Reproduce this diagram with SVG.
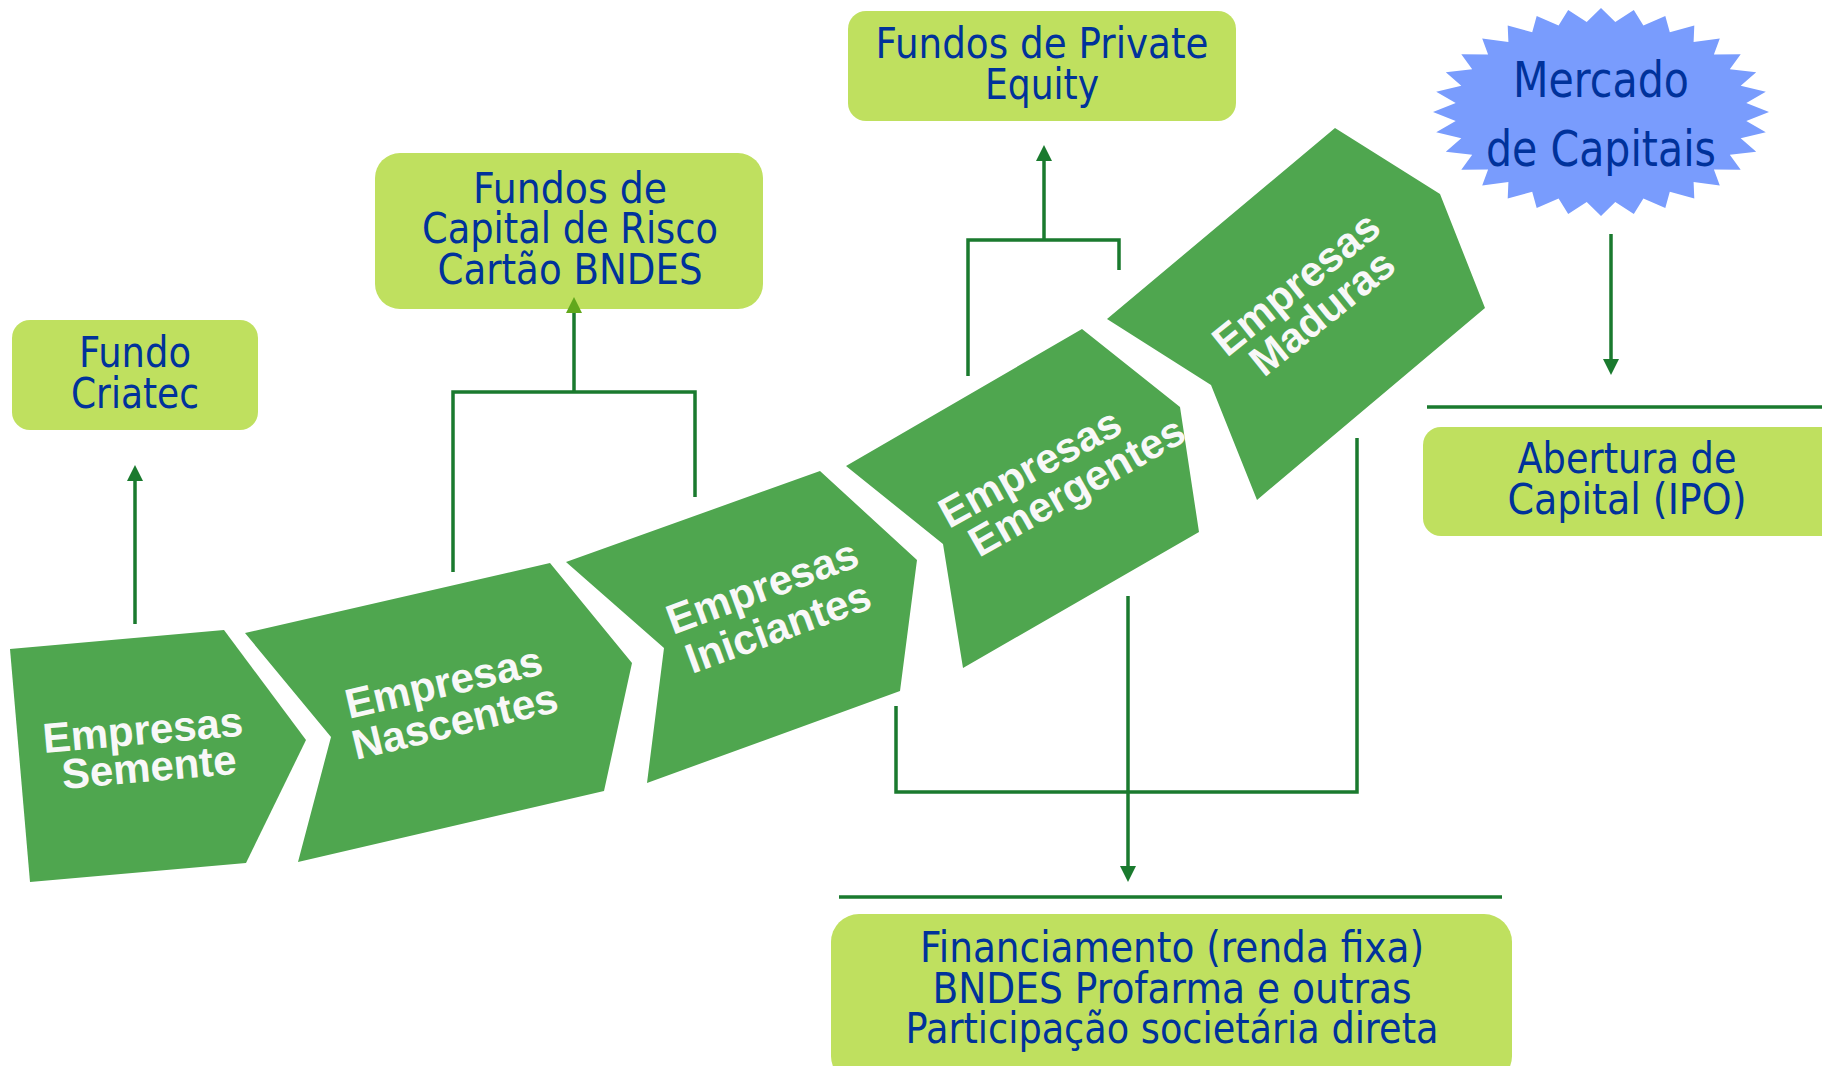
<svg xmlns="http://www.w3.org/2000/svg" width="1822" height="1066" viewBox="0 0 1822 1066">
  <style>
    .box { fill: #bfe05f; }
    .stage { fill: #4fa64f; }
    .btxt { font-family: "DejaVu Sans", sans-serif; font-size: 42px; fill: #00329b; text-anchor: middle; }
    .mtxt { font-family: "DejaVu Sans", sans-serif; font-size: 49px; fill: #00329b; text-anchor: middle; }
    .wtxt { font-family: "Liberation Sans", Arial, sans-serif; font-size: 42px; font-weight: bold; fill: #f8f8f8; }
    .conn { fill: none; stroke: #1a7a2e; stroke-width: 3.5; }
  </style>
  <defs>
    <marker id="arr" markerUnits="userSpaceOnUse" markerWidth="16" markerHeight="16" refX="12" refY="8" orient="auto">
      <path d="M0,0 L16,8 L0,16 Z" fill="#1a7a2e"/>
    </marker>
    <marker id="arrLight" markerUnits="userSpaceOnUse" markerWidth="16" markerHeight="16" refX="12" refY="8" orient="auto">
      <path d="M0,0 L16,8 L0,16 Z" fill="#62a81c"/>
    </marker>
  </defs>
  <rect width="1822" height="1066" fill="#ffffff"/>

  <g id="stage-semente">
    <polygon class="stage" points="10,649 224,630 306,740 246,863 30,882"/>
    <text class="wtxt" transform="translate(44,753) rotate(-5)">Empresas</text>
    <text class="wtxt" transform="translate(63,789) rotate(-5)">Semente</text>
  </g>
  <g id="stage-nascentes">
    <polygon class="stage" points="245,633 550,563 632,663 604,791 298,862 331,737"/>
    <text class="wtxt" transform="translate(349,719) rotate(-13)">Empresas</text>
    <text class="wtxt" transform="translate(356,760) rotate(-13.5)">Nascentes</text>
  </g>
  <g id="stage-iniciantes">
    <polygon class="stage" points="566,562 820,471 917,560 900,691 647,783 664,648"/>
    <text class="wtxt" transform="translate(673,635) rotate(-20.3)">Empresas</text>
    <text class="wtxt" transform="translate(692,674) rotate(-20.1)">Iniciantes</text>
  </g>
  <g id="stage-emergentes">
    <polygon class="stage" points="846,466 1082,329 1180,407 1199,532 963,668 943,544"/>
    <text class="wtxt" transform="translate(949,529) rotate(-29)">Empresas</text>
    <text class="wtxt" transform="translate(979,558) rotate(-29.5)">Emergentes</text>
  </g>
  <g id="stage-maduras">
    <polygon class="stage" points="1107,319 1335,128 1440,194 1485,308 1257,500 1211,385"/>
    <text class="wtxt" transform="translate(1227,358) rotate(-39)">Empresas</text>
    <text class="wtxt" transform="translate(1264,378) rotate(-39)">Maduras</text>
  </g>

  <g id="fundo-criatec">
    <rect class="box" x="12" y="320" width="246" height="110" rx="18"/>
    <text class="btxt" x="135" y="367" textLength="112" lengthAdjust="spacingAndGlyphs">Fundo</text>
    <text class="btxt" x="135" y="408" textLength="128" lengthAdjust="spacingAndGlyphs">Criatec</text>
  </g>
  <g id="fundos-capital-risco">
    <rect class="box" x="375" y="153" width="388" height="156" rx="25"/>
    <text class="btxt" x="570" y="203" textLength="194" lengthAdjust="spacingAndGlyphs">Fundos de</text>
    <text class="btxt" x="570" y="243" textLength="296" lengthAdjust="spacingAndGlyphs">Capital de Risco</text>
    <text class="btxt" x="570" y="284" textLength="265" lengthAdjust="spacingAndGlyphs">Cartão BNDES</text>
  </g>
  <g id="fundos-private-equity">
    <rect class="box" x="848" y="11" width="388" height="110" rx="18"/>
    <text class="btxt" x="1042" y="58" textLength="333" lengthAdjust="spacingAndGlyphs">Fundos de Private</text>
    <text class="btxt" x="1042" y="99" textLength="114" lengthAdjust="spacingAndGlyphs">Equity</text>
  </g>
  <g id="mercado-capitais">
    <polygon fill="#799cfd" points="1601,8 1615.3,21.9 1633.8,10 1643.4,25.4 1665.3,15.9 1669.8,32.2 1694.3,25.5 1693.6,42 1719.8,38.5 1713.9,54.6 1740.7,54.2 1729.8,69.3 1756.2,72.2 1740.7,85.7 1765.8,91.7 1746.3,103.1 1769,112 1746.3,120.9 1765.8,132.3 1740.7,138.3 1756.2,151.8 1729.8,154.7 1740.7,169.8 1713.9,169.4 1719.8,185.5 1693.6,182 1694.3,198.5 1669.8,191.8 1665.3,208.1 1643.4,198.6 1633.8,214 1615.3,202.1 1601,216 1586.7,202.1 1568.2,214 1558.6,198.6 1536.7,208.1 1532.2,191.8 1507.7,198.5 1508.4,182 1482.2,185.5 1488.1,169.4 1461.3,169.8 1472.2,154.7 1445.8,151.8 1461.3,138.3 1436.2,132.3 1455.7,120.9 1433,112 1455.7,103.1 1436.2,91.7 1461.3,85.7 1445.8,72.2 1472.2,69.3 1461.3,54.2 1488.1,54.6 1482.2,38.5 1508.4,42 1507.7,25.5 1532.2,32.2 1536.7,15.9 1558.6,25.4 1568.2,10 1586.7,21.9"/>
    <text class="mtxt" x="1601" y="97" textLength="176" lengthAdjust="spacingAndGlyphs">Mercado</text>
    <text class="mtxt" x="1601" y="166" textLength="230" lengthAdjust="spacingAndGlyphs">de Capitais</text>
  </g>
  <g id="abertura-capital">
    <rect class="box" x="1423" y="427" width="420" height="109" rx="18"/>
    <text class="btxt" x="1627" y="473" textLength="219" lengthAdjust="spacingAndGlyphs">Abertura de</text>
    <text class="btxt" x="1627" y="514" textLength="239" lengthAdjust="spacingAndGlyphs">Capital (IPO)</text>
  </g>
  <g id="financiamento">
    <rect class="box" x="831" y="914" width="681" height="170" rx="28"/>
    <text class="btxt" x="1172" y="962" textLength="504" lengthAdjust="spacingAndGlyphs">Financiamento (renda fixa)</text>
    <text class="btxt" x="1172" y="1003" textLength="479" lengthAdjust="spacingAndGlyphs">BNDES Profarma e outras</text>
    <text class="btxt" x="1172" y="1043" textLength="533" lengthAdjust="spacingAndGlyphs">Participação societária direta</text>
  </g>

  <g id="connectors">
    <path class="conn" d="M135,624 V469" marker-end="url(#arr)"/>
    <path class="conn" d="M453,572 V392 H695 V497"/>
    <path class="conn" d="M574,392 V301" marker-end="url(#arrLight)"/>
    <path class="conn" d="M968,376 V240 H1119 V270"/>
    <path class="conn" d="M1044,240 V149" marker-end="url(#arr)"/>
    <path class="conn" d="M1611,234 V371" marker-end="url(#arr)"/>
    <path class="conn" d="M896,706 V792 H1357 V438"/>
    <path class="conn" d="M1128,596 V878" marker-end="url(#arr)"/>
    <path class="conn" d="M839,897 H1502"/>
    <path class="conn" d="M1427,407 H1822"/>
  </g>
</svg>
